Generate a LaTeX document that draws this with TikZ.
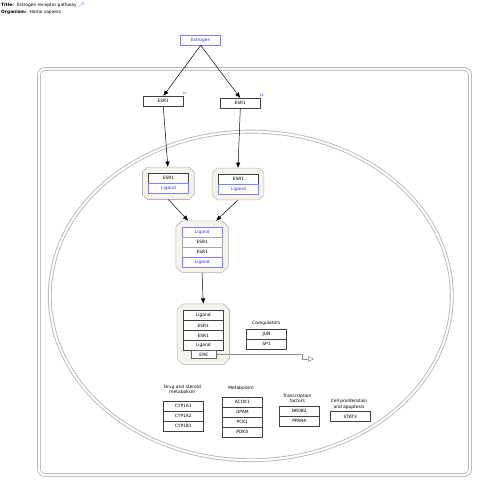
\documentclass[tikz,border=0pt]{standalone}
\usepackage{fontspec}
\setmainfont{DejaVu Sans}
\usetikzlibrary{arrows.meta,calc}
\definecolor{cplxfill}{HTML}{F5F4EC}
\definecolor{cplxline}{HTML}{B4B4B4}
\definecolor{membline}{HTML}{B8B8B8}
\definecolor{ligblue}{HTML}{3030FF}
\definecolor{boxblue}{HTML}{8080FF}
\newcommand\smallfnt{\fontsize{4.4}{5.2}\selectfont}
\newcommand\tinyfnt{\fontsize{3}{3.5}\selectfont}
\newcommand\octa[2]{%
  \draw[cplxstyle] ($(#1.north west)+(#2,0)$) -- ($(#1.north east)+(-#2,0)$)
   -- ($(#1.north east)+(0,#2)$) -- ($(#1.south east)+(0,-#2)$)
   -- ($(#1.south east)+(-#2,0)$) -- ($(#1.south west)+(#2,0)$)
   -- ($(#1.south west)+(0,-#2)$) -- ($(#1.north west)+(0,#2)$) -- cycle;}
\begin{document}
\begin{tikzpicture}[x=1pt,y=-1pt,
  every node/.style={font=\smallfnt, inner sep=0pt},
  gene/.style={draw=black!75, line width=0.5pt, minimum width=40pt, minimum height=10pt, fill=white},
  ligand/.style={gene, draw=boxblue, text=ligblue},
  cgene/.style={gene, draw=black!35},
  cplxbox/.style={draw=none, minimum width=#1},
  cplxstyle/.style={draw=cplxline, fill=cplxfill, line width=0.6pt},
  memb/.style={draw=membline, double=white, double distance=2pt, line width=0.9pt},
  arr/.style={draw=black, line width=0.5pt, -{Latex[length=5.5pt,width=4.5pt]}},
  grplabel/.style={align=center, font=\smallfnt},
  refnum/.style={font=\tinyfnt, text=ligblue}]
\useasboundingbox (0,0) rectangle (480,485);

% title
\node[anchor=west] (title) at (1,5) {\textbf{Title:}\ \ Estrogen receptor pathway};
\node[anchor=west, font=\tinyfnt, text=ligblue] (titleicon) at (title.east) {\,$\scriptscriptstyle\nearrow$};
\node[anchor=west] (organism) at (1,12) {\textbf{Organism:}\ \ Homo sapiens};

% compartments
\draw[memb, rounded corners=6pt] (39,69) rectangle (470,475);
\draw[memb] (250.8,295.9) ellipse [x radius=201, y radius=164.3];

% estrogen and receptors
\node[gene, draw=boxblue, text=ligblue, minimum height=9.5pt] (estrogen) at (200.7,40.3) {Estrogen};
\node[gene] (esrL) at (163.3,101.3) {ESR1};
\node[gene] (esrR) at (240.3,103.3) {ESR1};
\node[refnum] (refL) at (184.5,93.5) {10};
\node[refnum] (refR) at (261.5,95.5) {18};

% complex 1
\node[cplxbox=51.3pt, minimum height=32pt] (c1) at (168.35,183.3) {};
\octa{c1}{5}
\node[gene] (c1a) at (168.5,178.3) {ESR1};
\node[ligand] (c1b) at (168.5,188.3) {Ligand};

% complex 2
\node[cplxbox=51.4pt, minimum height=31.4pt] (c2) at (238,184) {};
\octa{c2}{5}
\node[gene] (c2a) at (238.5,179.3) {ESR1};
\node[ligand] (c2b) at (238.5,189.3) {Ligand};

% complex 3
\node[cplxbox=52pt, minimum height=51.3pt] (c3) at (202,246.7) {};
\octa{c3}{6}
\node[ligand] (c3a) at (202.3,232) {Ligand};
\node[cgene] (c3b) at (202.3,242) {ESR1};
\node[cgene] (c3c) at (202.3,252) {ESR1};
\node[ligand] (c3d) at (202.3,262) {Ligand};

% complex 4
\node[cplxbox=52pt, minimum height=60.3pt] (c4) at (203.3,334.2) {};
\octa{c4}{6}
\node[gene] (c4a) at (203.3,315.7) {Ligand};
\node[gene] (c4b) at (203.3,325.7) {ESR1};
\node[gene] (c4c) at (203.3,335.7) {ESR1};
\node[gene] (c4d) at (203.3,345.7) {Ligand};
\node[gene, draw=black!60, minimum width=25pt, minimum height=7.6pt] (ere) at (203.8,354.5) {ERE};

% coregulators
\node[grplabel] (coregl) at (266.3,323.7) {Coregulators};
\node[gene] (jun) at (266.5,334.3) {JUN};
\node[gene] (sp1) at (266.5,344.3) {SP1};

% target groups
\node[grplabel] (drugl) at (182.3,389.3) {Drug and steroid\\metabolism};
\node[gene] (cyp1a1) at (183.3,406.3) {CYP1A1};
\node[gene] (cyp1a2) at (183.3,416.3) {CYP1A2};
\node[gene] (cyp1b1) at (183.3,426.3) {CYP1B1};

\node[grplabel] (metl) at (241,387.7) {Metabolism};
\node[gene] (acox1) at (242.3,402) {ACOX1};
\node[gene] (gpam) at (242.3,412) {GPAM};
\node[gene] (pck1) at (242.3,422) {PCK1};
\node[gene] (pdk4) at (242.3,432) {PDK4};

\node[grplabel] (tfl) at (297.3,398.3) {Transcription\\factors};
\node[gene] (nr0b2) at (299.3,411) {NR0B2};
\node[gene] (ppara) at (299.3,421) {PPARA};

\node[grplabel] (cpl) at (349,404.3) {Cell proliferation\\and apoptosis};
\node[gene] (stat3) at (350.3,416.7) {STAT3};

% interactions
\draw[arr] (estrogen.south) -- (esrL.north);
\draw[arr] (estrogen.south) -- (esrR.north);
\draw[arr] (esrL.south) -- ($(c1.north)+(-0.5,0)$);
\draw[arr] (esrR.south) -- (c2.north);
\draw[arr] (c1.south) -- ($(c3.north)+(-13.7,0)$);
\draw[arr] (c2.south) -- ($(c3.north)+(14,0)$);
\draw[arr] (c3.south) -- (c4.north);

\coordinate (tx1) at (302.7,354.5);
\coordinate (tx2) at (302.7,359);
\coordinate (txend) at (314,359);
\draw[draw=black!45, line width=0.5pt, -{Triangle[open, length=6pt, width=6pt]}]
  (ere.east) -- (tx1) -- (tx2) -- (txend);
\end{tikzpicture}
\end{document}
